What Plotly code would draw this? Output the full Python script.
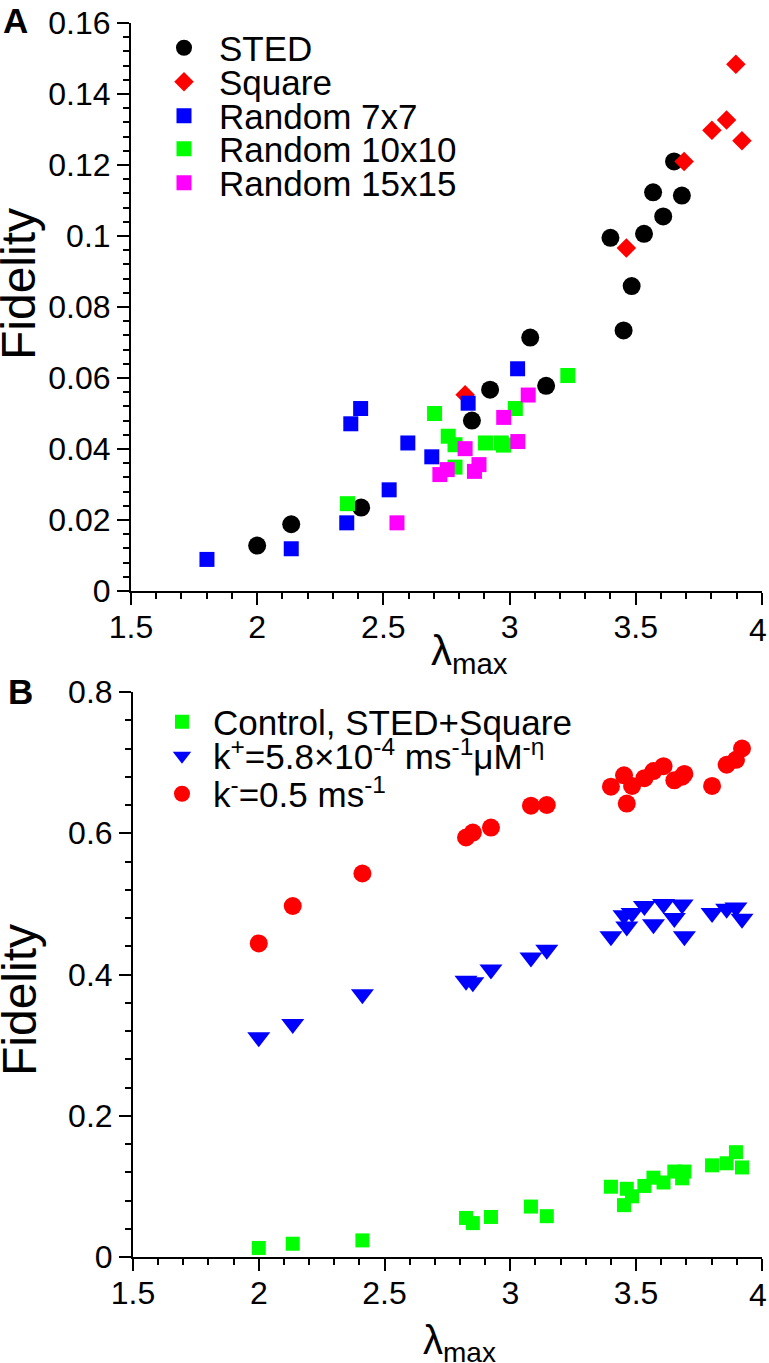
import plotly.graph_objects as go

# ---------------- Panel A data ----------------
sted_lambda = [2.000, 2.135, 2.412, 2.851, 2.923, 3.082, 3.145, 3.400, 3.452, 3.484, 3.533, 3.569, 3.609, 3.652, 3.683]
sted_fid = [0.0128, 0.0188, 0.0235, 0.0480, 0.0567, 0.0714, 0.0578, 0.0995, 0.0734, 0.0859, 0.1006, 0.1123, 0.1055, 0.1210, 0.1114]

square_lambda = [2.824, 3.463, 3.692, 3.802, 3.860, 3.897, 3.921]
square_fid = [0.0553, 0.0966, 0.1210, 0.1298, 0.1327, 0.1484, 0.1268]

rand7_lambda = [1.801, 2.135, 2.355, 2.371, 2.410, 2.523, 2.597, 2.692, 2.836, 3.032]
rand7_fid = [0.0089, 0.0119, 0.0192, 0.0471, 0.0514, 0.0285, 0.0417, 0.0378, 0.0529, 0.0626]

rand10_lambda = [2.358, 2.703, 2.757, 2.784, 2.784, 2.905, 2.967, 2.976, 3.023, 3.231]
rand10_fid = [0.0246, 0.0500, 0.0436, 0.0412, 0.0349, 0.0417, 0.0417, 0.0411, 0.0514, 0.0607]

rand15_lambda = [2.554, 2.724, 2.753, 2.824, 2.861, 2.879, 2.977, 3.033, 3.074]
rand15_fid = [0.0192, 0.0328, 0.0342, 0.0401, 0.0337, 0.0356, 0.0489, 0.0421, 0.0552]

# ---------------- Panel B data ----------------
b_lambda = [2.000, 2.135, 2.412, 2.824, 2.851, 2.923, 3.082, 3.145, 3.400, 3.452, 3.463,
            3.484, 3.533, 3.569, 3.609, 3.652, 3.683, 3.692, 3.802, 3.860, 3.897, 3.921]
b_control = [0.0128, 0.0188, 0.0235, 0.0553, 0.0480, 0.0567, 0.0714, 0.0578, 0.0995, 0.0734, 0.0966,
             0.0859, 0.1006, 0.1123, 0.1055, 0.1210, 0.1114, 0.1210, 0.1298, 0.1327, 0.1484, 0.1268]
b_kplus = [0.311, 0.330, 0.372, 0.391, 0.389, 0.407, 0.424, 0.435, 0.454, 0.484, 0.468,
           0.487, 0.497, 0.471, 0.500, 0.480, 0.499, 0.454, 0.487, 0.493, 0.495, 0.479]
b_kminus = [0.444, 0.497, 0.543, 0.594, 0.601, 0.608, 0.639, 0.640, 0.666, 0.682, 0.642,
            0.667, 0.678, 0.688, 0.695, 0.675, 0.680, 0.684, 0.667, 0.697, 0.704, 0.720]

x_ticks = [1.5, 2, 2.5, 3, 3.5, 4]
x_ticklabels = ["1.5", "2", "2.5", "3", "3.5", ""]   # the "4" at the edge is drawn as an annotation
x_last_label = "4"
ya_ticks = [0, 0.02, 0.04, 0.06, 0.08, 0.1, 0.12, 0.14, 0.16]
ya_ticklabels = ["0", "0.02", "0.04", "0.06", "0.08", "0.1", "0.12", "0.14", "0.16"]
yb_ticks = [0, 0.2, 0.4, 0.6, 0.8]
yb_ticklabels = ["0", "0.2", "0.4", "0.6", "0.8"]

W, H = 769, 1363
ML, MR, MT, MB = 131, 7, 23, 106
PW, PH = W - ML - MR, H - MT - MB
FONT = "Liberation Sans, Arial, Helvetica, sans-serif"


def px_x(v):
    return (v - ML) / PW


def px_y(v):
    return (H - MB - v) / PH


fig = go.Figure()


def add(x, y, name, color, symbol, size, xa, ya, legend):
    fig.add_trace(go.Scatter(
        x=x, y=y, mode="markers", name=name, xaxis=xa, yaxis=ya,
        marker=dict(color=color, symbol=symbol, size=size, line=dict(width=0)),
        cliponaxis=False, legend=legend, showlegend=True))


add(sted_lambda, sted_fid, "STED", "#000000", "circle", 18, "x", "y", "legend")
add(square_lambda, square_fid, "Square", "#ff0000", "diamond", 15, "x", "y", "legend2")
add(rand7_lambda, rand7_fid, "Random 7x7", "#0000ff", "square", 15, "x", "y", "legend3")
add(rand10_lambda, rand10_fid, "Random 10x10", "#00ff00", "square", 15, "x", "y", "legend4")
add(rand15_lambda, rand15_fid, "Random 15x15", "#ff00ff", "square", 15, "x", "y", "legend5")

add(b_lambda, b_control, "Control, STED+Square", "#00ff00", "square", 14, "x2", "y2", "legend6")
add(b_lambda, b_kplus, "k<sup>+</sup>=5.8×10<sup>-4</sup> ms<sup>-1</sup>μM<sup>-η</sup>", "#0000ff",
    "triangle-down", 20, "x2", "y2", "legend7")
add(b_lambda, b_kminus, "k<sup>-</sup>=0.5 ms<sup>-1</sup>", "#ff0000", "circle", 18, "x2", "y2", "legend8")

axis_common = dict(
    showline=True, linecolor="black", linewidth=2, showgrid=False, zeroline=False,
    ticks="outside", ticklen=12, tickwidth=2, tickcolor="black", ticklabeloverflow="allow",
    tickfont=dict(family=FONT, size=32, color="black"), mirror=False, automargin=False,
)
x_extra = dict(ticklabelstandoff=-5)
y_extra = dict(ticklabelstandoff=0)

fig.update_layout(
    width=W, height=H, paper_bgcolor="white", plot_bgcolor="white",
    margin=dict(l=ML, r=MR, t=MT, b=MB, autoexpand=False),
    font=dict(family=FONT, color="black"),
    xaxis=dict(domain=[0, 1], anchor="y", range=[1.5, 4.0005], tickvals=x_ticks, ticktext=x_ticklabels,
               minor=dict(dtick=0.1, tick0=1.5, ticks="outside", ticklen=6, tickwidth=2, tickcolor="black"),
               **axis_common, **x_extra),
    yaxis=dict(domain=[px_y(591), 1], anchor="x", range=[0, 0.16], tickvals=ya_ticks, ticktext=ya_ticklabels,
               minor=dict(dtick=0.004, tick0=0, ticks="outside", ticklen=6, tickwidth=2, tickcolor="black"),
               **axis_common, **y_extra),
    xaxis2=dict(domain=[px_x(133), 1], anchor="y2", range=[1.5, 4.0005], tickvals=x_ticks, ticktext=x_ticklabels,
                minor=dict(dtick=0.1, tick0=1.5, ticks="outside", ticklen=6, tickwidth=2, tickcolor="black"),
                **axis_common, **x_extra),
    yaxis2=dict(domain=[0, px_y(692)], anchor="x2", range=[0, 0.8], tickvals=yb_ticks, ticktext=yb_ticklabels,
                minor=dict(dtick=0.04, tick0=0, ticks="outside", ticklen=6, tickwidth=2, tickcolor="black"),
                **axis_common, **y_extra),
)

# Legends: one per entry, positioned in container pixels
legend_rows = [
    ("legend", 149, 48, 35, 60), ("legend2", 149, 82, 35, 60), ("legend3", 149, 116, 35, 60),
    ("legend4", 149, 149, 35, 60), ("legend5", 149, 183, 35, 60),
    ("legend6", 151, 722, 35, 52), ("legend7", 151, 756, 35, 52), ("legend8", 151, 794, 35, 52),
]
for key, lx, ly, fs, iw in legend_rows:
    fig.update_layout({key: dict(
        xref="container", yref="container", x=lx / W, y=1 - ly / H,
        xanchor="left", yanchor="middle", bgcolor="rgba(0,0,0,0)", borderwidth=0,
        font=dict(family=FONT, size=fs, color="black"), itemwidth=iw,
        itemclick=False, itemdoubleclick=False)})

ann = []
# panel labels
ann.append(dict(text="<b>A</b>", x=px_x(15), y=px_y(20), xanchor="center", yanchor="middle",
                font=dict(family=FONT, size=35), borderpad=0))
ann.append(dict(text="<b>B</b>", x=px_x(21), y=px_y(691), xanchor="center", yanchor="middle",
                font=dict(family=FONT, size=35), borderpad=0))
# y titles
ann.append(dict(text="Fidelity", textangle=-90, x=px_x(19), y=px_y(284), xanchor="center", yanchor="middle",
                font=dict(family=FONT, size=48)))
ann.append(dict(text="Fidelity", textangle=-90, x=px_x(19), y=px_y(1000), xanchor="center", yanchor="middle",
                font=dict(family=FONT, size=48)))
# x titles
ann.append(dict(text="λ<sub>max</sub>", x=px_x(469), y=px_y(625), xanchor="center", yanchor="top",
                font=dict(family=FONT, size=42)))
ann.append(dict(text="λ<sub>max</sub>", x=px_x(460), y=px_y(1316), xanchor="center", yanchor="top",
                font=dict(family=FONT, size=40)))
# last x tick label at the right edge
for yc in (630, 1295):
    ann.append(dict(text=x_last_label, x=px_x(758), y=px_y(yc), xanchor="center", yanchor="middle",
                    font=dict(family=FONT, size=32), borderpad=0))
for a in ann:
    a.update(xref="paper", yref="paper", showarrow=False)
fig.update_layout(annotations=ann)

fig.write_html("out.html", config={"displayModeBar": False},
               post_script="document.body.style.margin='0';document.body.style.overflow='hidden';")
